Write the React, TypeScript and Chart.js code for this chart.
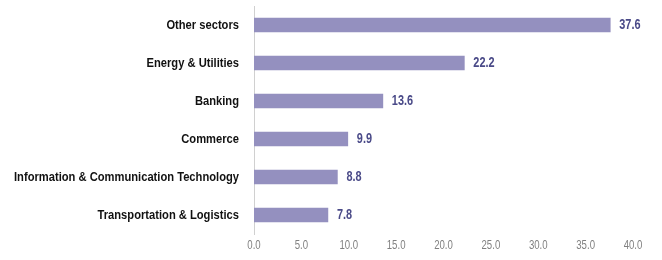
import React, { useEffect, useRef } from "react";
import { Chart, registerables } from "chart.js";

Chart.register(...registerables);

const categories = [
  "Other sectors",
  "Energy & Utilities",
  "Banking",
  "Commerce",
  "Information & Communication Technology",
  "Transportation & Logistics",
];
const values = [37.6, 22.2, 13.6, 9.9, 8.8, 7.8];
const xTicks = [0, 5, 10, 15, 20, 25, 30, 35, 40];

const FONT = "'Liberation Sans', Arial, sans-serif";
const LONGEST_LABEL_WIDTH = 225;

function drawNarrow(ctx: any, text: string, x: number, y: number, align: string, sx: number) {
  ctx.save();
  ctx.translate(x, y);
  ctx.scale(sx, 1);
  ctx.textAlign = align;
  ctx.textBaseline = "middle";
  ctx.fillText(text, 0, 0);
  ctx.restore();
}

const narrowText = {
  id: "narrowText",
  afterDatasetsDraw(chart: any) {
    const ctx = chart.ctx;
    const meta = chart.getDatasetMeta(0);
    const yScale = chart.scales.y;
    const xScale = chart.scales.x;
    ctx.save();
    // category labels
    ctx.font = `bold 13px ${FONT}`;
    ctx.fillStyle = "#111111";
    const widest = Math.max(...categories.map((c) => ctx.measureText(c).width));
    const sy = LONGEST_LABEL_WIDTH / widest;
    categories.forEach((c, i) => {
      drawNarrow(ctx, c, yScale.right - 15, yScale.getPixelForTick(i), "right", sy);
    });
    // value labels
    ctx.font = `bold 14px ${FONT}`;
    ctx.fillStyle = "#4a4a88";
    meta.data.forEach((bar: any, i: number) => {
      drawNarrow(ctx, values[i].toFixed(1), bar.x + 9, bar.y, "left", 0.78);
    });
    // x tick labels
    ctx.font = `13px ${FONT}`;
    ctx.fillStyle = "#808080";
    xTicks.forEach((v) => {
      drawNarrow(ctx, v.toFixed(1), xScale.getPixelForValue(v), 245, "center", 0.74);
    });
    ctx.restore();
  },
};

export default function App() {
  const ref = useRef<HTMLCanvasElement | null>(null);
  useEffect(() => {
    document.body.style.margin = "0";
    const chart = new Chart(ref.current!, {
      type: "bar",
      data: {
        labels: categories,
        datasets: [
          {
            data: values,
            backgroundColor: "#9490bf",
            barThickness: 14,
          },
        ],
      },
      options: {
        indexAxis: "y",
        animation: false,
        responsive: false,
        layout: { padding: { top: 6, right: 29, left: 0, bottom: 0 } },
        plugins: { legend: { display: false }, tooltip: { enabled: false } },
        scales: {
          x: {
            min: 0,
            max: 40,
            afterBuildTicks(axis: any) {
              axis.ticks = xTicks.map((v) => ({ value: v }));
            },
            afterFit(axis: any) {
              axis.height = 26;
              axis.paddingTop = 0;
              axis.paddingBottom = 0;
              axis.paddingLeft = 0;
              axis.paddingRight = 0;
            },
            grid: { display: false, drawTicks: false },
            border: { display: false },
            ticks: { display: false },
          },
          y: {
            afterFit(axis: any) {
              axis.width = 254;
              axis.paddingTop = 0;
              axis.paddingBottom = 0;
            },
            grid: { display: false, drawTicks: false },
            border: { display: true, color: "#d0d0d0", width: 1 },
            ticks: { display: false },
          },
        },
      },
      plugins: [narrowText],
    });
    return () => chart.destroy();
  }, []);
  return <canvas ref={ref} width={662} height={260} style={{ display: "block" }} />;
}
